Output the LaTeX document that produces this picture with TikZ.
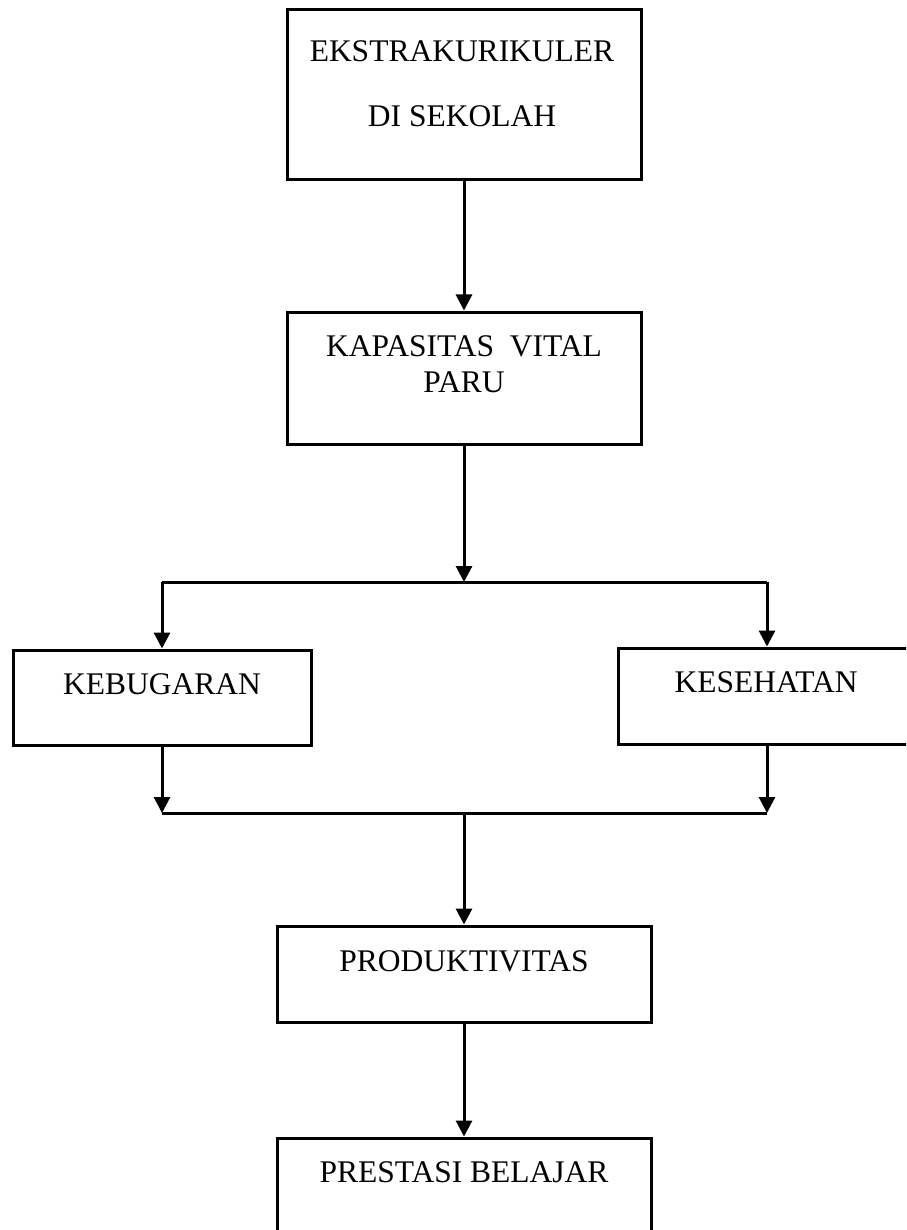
\documentclass[tikz,border=0pt]{standalone}
\usepackage{fontspec}
\setmainfont{Liberation Serif}
\usepackage{tikz}
\usetikzlibrary{arrows.meta, positioning}
\tikzset{
    box/.style={rectangle, draw, line width=3pt, inner sep=0pt},
    lbl/.style={align=center, inner sep=0pt, font=\fontsize{31.5}{36}\selectfont},
    line/.style={draw, line width=3pt},
    arrow/.style={line, -{Triangle[width=16pt, length=16pt]}}
}
\begin{document}
\begin{tikzpicture}[x=1pt, y=-1pt]
    \clip (0,0) rectangle (906,1230);
    \fill[white] (0,0) rectangle (906,1230);

    % Boxes
    \node[box, minimum width=354pt, minimum height=170pt] (eks) at (464,95) {};
    \node[lbl, font=\fontsize{31.5}{65}\selectfont] (ekstxt) at (462,84) {EKSTRAKURIKULER\\DI SEKOLAH};

    \node[box, minimum width=354pt, minimum height=132pt] (kap) at (464,378) {};
    \node[lbl] (kaptxt) at (464,364) {KAPASITAS\ \ VITAL\\PARU};

    \node[box, minimum width=298pt, minimum height=95pt] (keb) at (162,697.5) {};
    \node[lbl] (kebtxt) at (162,684) {KEBUGARAN};

    \node[box, minimum width=298pt, minimum height=96pt] (kes) at (767,696) {};
    \node[lbl] (kestxt) at (766,682) {KESEHATAN};

    \node[box, minimum width=374pt, minimum height=96pt] (prod) at (464,974) {};
    \node[lbl] (prodtxt) at (464,961) {PRODUKTIVITAS};

    \node[box, minimum width=374pt, minimum height=96pt] (pres) at (464,1186) {};
    \node[lbl] (prestxt) at (464,1172) {PRESTASI BELAJAR};

    % Junctions
    \coordinate (split) at (464,582);
    \coordinate (splitL) at (162,582);
    \coordinate (splitR) at (767,582);
    \coordinate (merge) at (464,813);
    \coordinate (mergeL) at (162,813);
    \coordinate (mergeR) at (767,813);

    % Connectors
    \draw[arrow] (eks.south) -- (kap.north);
    \draw[arrow] (kap.south) -- (split);
    \draw[line] (splitL) -- (splitR);
    \draw[arrow] (splitL) -- (keb.north);
    \draw[arrow] (splitR) -- (kes.north);
    \draw[arrow] (keb.south) -- (mergeL);
    \draw[arrow] (kes.south) -- (mergeR);
    \draw[line] (mergeL) -- (mergeR);
    \draw[arrow] (merge) -- (prod.north);
    \draw[arrow] (prod.south) -- (pres.north);

\end{tikzpicture}
\end{document}
